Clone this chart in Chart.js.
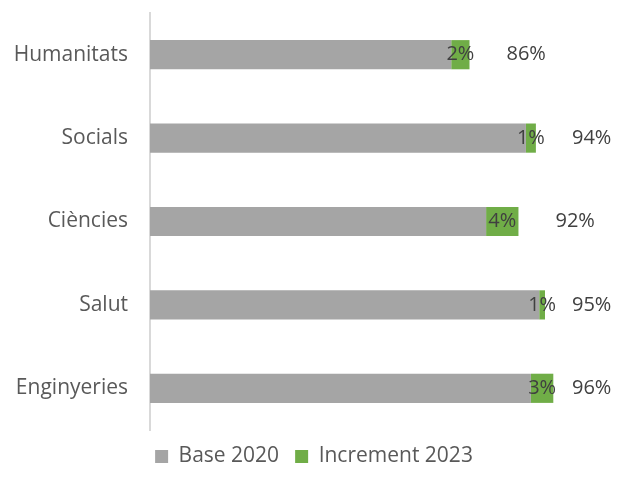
<!DOCTYPE html>
<html>
<head>
<meta charset="utf-8">
<script src="https://cdn.jsdelivr.net/npm/chart.js@4/dist/chart.umd.min.js"></script>
<style>
  body { margin: 0; background: #fff; }
  #wrap { width: 628px; height: 495px; }
</style>
</head>
<body>
<div id="wrap"><canvas id="myChart"></canvas></div>
<script>
// data (percent)
const categories = ['Humanitats', 'Socials', 'Ciències', 'Salut', 'Enginyeries'];
const base2020 = [83.6, 92.6, 87.8, 94.2, 93.2];
const increment2023 = [2.2, 1.2, 3.9, 0.7, 2.7];
const incrementLabels = ['2%', '1%', '4%', '1%', '3%'];
const totalLabels = ['86%', '94%', '92%', '95%', '96%'];

const FONT = "'Open Sans', sans-serif";

// draws the labels on the green part and the total at the right
const labelPlugin = {
  id: 'barLabels',
  afterDatasetsDraw(chart) {
    const c = chart.ctx;
    const meta = chart.getDatasetMeta(1);
    c.save();
    c.font = '20px ' + FONT;
    c.fillStyle = '#404040';
    c.textBaseline = 'middle';
    meta.data.forEach(function(bar, i) {
      c.textAlign = 'center';
      c.fillText(incrementLabels[i], (bar.x + bar.base) / 2, bar.y);
      c.textAlign = 'left';
      c.fillText(totalLabels[i], Math.min(bar.x + 37, 572), bar.y);
    });
    c.restore();
  }
};

const ctx = document.getElementById('myChart');

new Chart(ctx, {
  type: 'bar',
  data: {
    labels: categories,
    datasets: [{
      label: 'Base 2020',
      data: base2020,
      backgroundColor: '#A5A5A5',
      clip: 0
    }, {
      label: 'Increment 2023',
      data: increment2023,
      backgroundColor: '#70AD47',
      clip: 0
    }]
  },
  options: {
    indexAxis: 'y',
    responsive: true,
    maintainAspectRatio: false,
    animation: false,
    datasets: {
      bar: { categoryPercentage: 1, barPercentage: 0.35 }
    },
    layout: {
      padding: { top: 13, right: 0, bottom: 18, left: 0 }
    },
    scales: {
      x: {
        stacked: true,
        display: false,
        min: 47.3,
        max: 104.9
      },
      y: {
        stacked: true,
        grid: { display: false, drawTicks: false },
        border: { display: true, color: '#d9d9d9', width: 2 },
        ticks: {
          color: '#595959',
          font: { family: FONT, size: 21 },
          padding: 22
        },
        afterFit(scale) {
          scale.width = 150;
          scale.paddingTop = 0;
          scale.paddingBottom = 0;
        }
      }
    },
    plugins: {
      tooltip: { enabled: false },
      legend: {
        position: 'bottom',
        labels: {
          color: '#595959',
          font: { family: FONT, size: 21 },
          boxWidth: 13,
          boxHeight: 13,
          padding: 16
        }
      }
    }
  },
  plugins: [labelPlugin]
});
</script>
</body>
</html>
